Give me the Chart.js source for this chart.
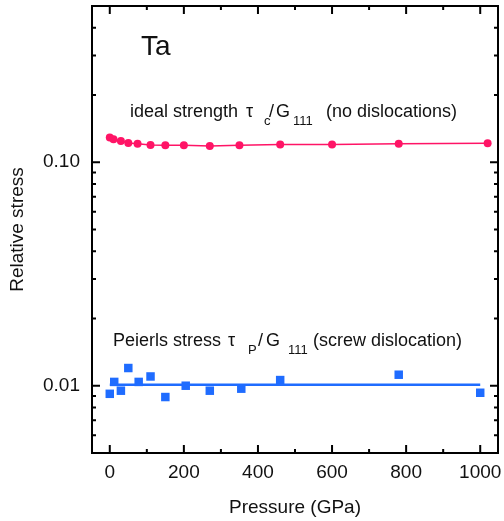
<!DOCTYPE html>
<html>
<head>
<meta charset="utf-8">
<script src="https://cdn.jsdelivr.net/npm/chart.js@4.4.1/dist/chart.umd.min.js"></script>
<style>
  html, body { margin: 0; padding: 0; background: #fff; }
  canvas { display: block; }
</style>
</head>
<body>
<canvas id="chart" width="504" height="521"></canvas>
<script>
// Ta: ideal strength vs Peierls stress, relative to G111, against pressure

const FONT = '"Liberation Sans", Arial, sans-serif';
const RED = '#ff1466';
const BLUE = '#1f6cff';

// ideal strength tau_c / G111
const idealPressure = [0, 10, 30, 50, 75, 110, 150, 200, 270, 350, 460, 600, 780, 1020];
const idealStress = [0.129, 0.1267, 0.1245, 0.122, 0.1211, 0.1195, 0.1191, 0.1191, 0.1183, 0.1191, 0.1199, 0.1199, 0.1211, 0.1216];

// Peierls stress tau_P / G111
const peierlsPressure = [0, 12, 30, 50, 78, 110, 150, 205, 270, 355, 460, 780, 1000];
const peierlsStress = [0.0092, 0.0104, 0.0095, 0.012, 0.0104, 0.011, 0.0089, 0.01, 0.0095, 0.0097, 0.0106, 0.0112, 0.0093];

// flat fit through the Peierls points
const fitPressure = [0, 1000];
const fitStress = [0.0101, 0.0101];

// axis ticks
const xMajorTicks = [0, 200, 400, 600, 800, 1000];
const xMinorTicks = [100, 300, 500, 700, 900];
const yMajorTicks = [0.01, 0.1];
const yTickLabels = ['0.01', '0.10'];
const yMinorTicks = [0.006, 0.007, 0.008, 0.009, 0.02, 0.03, 0.04, 0.05, 0.06, 0.07, 0.08, 0.09, 0.2, 0.3, 0.4];

const pts = (xs, ys) => xs.map((x, i) => ({ x, y: ys[i] }));

// frame + inward ticks on all four sides
const frameTicks = {
  id: 'frameTicks',
  afterDraw(chart) {
    const { ctx, chartArea: a, scales: { x, y } } = chart;
    ctx.save();
    ctx.strokeStyle = '#000';
    ctx.lineWidth = 2;
    ctx.beginPath();
    const vt = (v, len) => {
      const px = x.getPixelForValue(v);
      ctx.moveTo(px, a.bottom); ctx.lineTo(px, a.bottom - len);
      ctx.moveTo(px, a.top); ctx.lineTo(px, a.top + len);
    };
    const ht = (v, len) => {
      const py = y.getPixelForValue(v);
      ctx.moveTo(a.left, py); ctx.lineTo(a.left + len, py);
      ctx.moveTo(a.right, py); ctx.lineTo(a.right - len, py);
    };
    xMajorTicks.forEach(v => vt(v, 8));
    xMinorTicks.forEach(v => vt(v, 4));
    yMajorTicks.forEach(v => ht(v, 8));
    yMinorTicks.forEach(v => ht(v, 4));
    ctx.stroke();
    ctx.strokeRect(a.left, a.top, a.right - a.left, a.bottom - a.top);
    ctx.restore();
  }
};

// annotation text, subscripts drawn smaller and lower
const labels = {
  id: 'labels',
  afterDraw(chart) {
    const { ctx } = chart;
    ctx.save();
    ctx.fillStyle = '#111';
    ctx.textBaseline = 'alphabetic';
    ctx.textAlign = 'left';
    const put = (t, px, py, size) => { ctx.font = size + 'px ' + FONT; ctx.fillText(t, px, py); };
    put('Ta', 141, 55, 28);

    put('ideal strength', 130, 116.5, 18);
    put('\u03c4', 246, 116.5, 18);
    put('c', 264, 125, 13);
    put('/', 269, 116.5, 18);
    put('G', 276, 116.5, 18);
    put('111', 293, 125, 13);
    put('(no dislocations)', 326, 116.5, 18);

    put('Peierls stress', 113, 345.5, 18);
    put('\u03c4', 228, 345.5, 18);
    put('P', 248, 354, 13);
    put('/', 258, 345.5, 18);
    put('G', 266, 345.5, 18);
    put('111', 288, 354, 13);
    put('(screw dislocation)', 313, 345.5, 18);
    ctx.restore();
  }
};

new Chart(document.getElementById('chart'), {
  type: 'scatter',
  data: {
    datasets: [
      { data: pts(idealPressure, idealStress), showLine: true, borderColor: RED, borderWidth: 1.5,
        backgroundColor: RED, pointRadius: 4, pointBorderWidth: 0, pointStyle: 'circle' },
      { data: pts(fitPressure, fitStress), showLine: true, borderColor: BLUE, borderWidth: 2.5,
        pointRadius: 0 },
      { data: pts(peierlsPressure, peierlsStress), showLine: false, backgroundColor: BLUE,
        pointRadius: 6, pointBorderWidth: 0, pointStyle: 'rect' },
    ]
  },
  options: {
    responsive: false,
    animation: false,
    layout: { padding: { top: 5, right: 4, left: 0, bottom: 0 } },
    plugins: { legend: { display: false }, tooltip: { enabled: false } },
    scales: {
      x: {
        type: 'linear', min: -48, max: 1048,
        grid: { display: false, drawTicks: false },
        border: { display: false },
        afterBuildTicks: (s) => { s.ticks = xMajorTicks.map(v => ({ value: v })); },
        ticks: { color: '#111', padding: 8, font: { family: FONT, size: 19 }, callback: (v) => String(v) },
        title: { display: true, text: 'Pressure (GPa)', color: '#111', font: { family: FONT, size: 19 }, padding: { top: 0, bottom: 2 } },
        afterFit: (s) => { s.height = 68; s.paddingLeft = 0; s.paddingRight = 0; },
      },
      y: {
        type: 'logarithmic', min: 0.005, max: 0.5,
        grid: { display: false, drawTicks: false },
        border: { display: false },
        afterBuildTicks: (s) => { s.ticks = yMajorTicks.map(v => ({ value: v })); },
        ticks: { color: '#111', padding: 12, font: { family: FONT, size: 19 },
          callback: (v) => { const i = yMajorTicks.indexOf(v); return i >= 0 ? yTickLabels[i] : ''; } },
        title: { display: true, text: 'Relative stress', color: '#111', font: { family: FONT, size: 19 }, padding: { top: 6, bottom: 0 } },
        afterFit: (s) => { s.width = 92; s.paddingTop = 0; s.paddingBottom = 0; },
      }
    }
  },
  plugins: [frameTicks, labels]
});
</script>
</body>
</html>
